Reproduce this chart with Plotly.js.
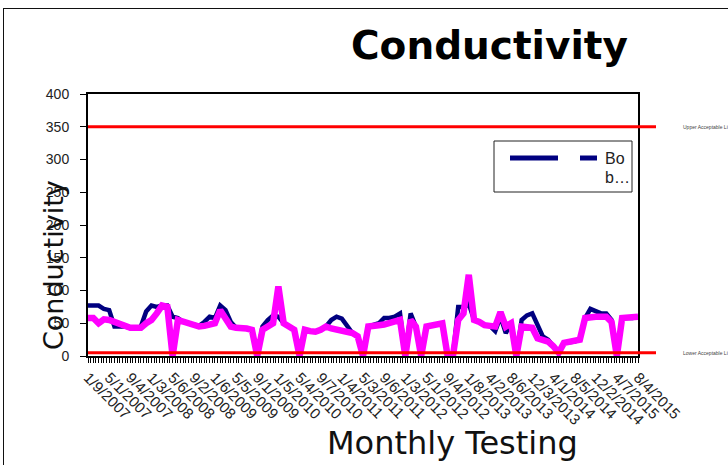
<!DOCTYPE html>
<html><head><meta charset="utf-8">
<script src="https://cdn.plot.ly/plotly-3.0.1.min.js"></script>
<style>
body{margin:0;background:#fff;overflow:hidden}
#frame{position:absolute;left:3px;top:8px;width:800px;height:600px;border:1.5px solid #111;pointer-events:none}
</style>
</head><body>
<div id="chart" style="width:728px;height:465px"></div>
<div id="frame"></div>
<script>
const tickLabels = ["1/9/2007","5/1/2007","9/4/2007","1/3/2008","5/6/2008","9/2/2008","1/6/2009","5/5/2009","9/1/2009","1/5/2010","5/4/2010","9/7/2010","1/4/2011","5/3/2011","9/6/2011","1/3/2012","5/1/2012","9/4/2012","1/8/2013","4/2/2013","8/6/2013","12/3/2013","4/1/2014","8/5/2014","12/2/2014","4/7/2015","8/4/2015"];
const pinkSeries = [58,58,50,56,55,52,47,45,43,43, 43,50,55,65,77,75,0,55,52,50, 48,45,46,47,50,70,55,45,43,43, 42,40,0,40,45,50,106,50,45,40, 0,40,38,37,40,45,42,40,38,36, 35,30,0,45,47,47,48,50,52,55, 0,55,45,0,45,47,48,50,0,0, 55,65,124,55,52,47,46,45,67,45, 50,0,45,44,43,27,25,22,15,5, 20,21,22,25,58,60,60,60,60,52, 0,58,58,58,60];
const navySeries = [77,77,77,72,70,45,45,45,43,43, 45,68,77,75,77,77,60,58,52,50, 48,46,52,60,58,77,70,52,43,43, 42,40,0,45,55,62,60,50,45,40, 0,40,38,37,40,45,55,60,57,47, 35,30,0,45,47,50,58,58,60,65, 0,65,45,0,45,47,48,50,0,0, 75,75,80,55,52,47,46,38,60,35, 50,0,55,62,65,47,30,25,15,5, 20,21,22,25,58,72,68,65,65,55, 0,58,58,58,60];
const upperLimit = 350;
const lowerLimit = 5;
const labelStep = 4;

const xIdx = pinkSeries.map((_, i) => i);
const tickVals = tickLabels.map((_, i) => i * labelStep);

const traces = [
  {x: xIdx, y: navySeries, type: 'scatter', mode: 'lines', line: {color: '#000080', width: 4.5}, hoverinfo: 'skip'},
  {x: xIdx, y: pinkSeries, type: 'scatter', mode: 'lines', line: {color: '#FF00FF', width: 6.5}, hoverinfo: 'skip'}
];

const px = v => (v - 88) / 550;
const py = v => (356 - v) / 262;

const layout = {
  width: 728, height: 465,
  margin: {l: 88, r: 90, t: 94, b: 109},
  paper_bgcolor: '#fff', plot_bgcolor: '#fff',
  showlegend: false,
  font: {family: 'Liberation Sans, Arial, sans-serif', color: '#111'},
  xaxis: {
    range: [0, pinkSeries.length - 1], showgrid: false, zeroline: false,
    showline: true, linecolor: '#000', linewidth: 2, mirror: true,
    tickmode: 'array', tickvals: tickVals, ticktext: tickLabels,
    ticks: 'outside', ticklen: 5, tickcolor: '#000', tickwidth: 1,
    tickangle: 45, tickfont: {size: 15, color: '#222'},
    minor: {dtick: 0.5, tick0: 0, ticks: 'outside', ticklen: 5, tickcolor: '#000', tickwidth: 1, showgrid: false}
  },
  yaxis: {
    range: [0, 400], dtick: 50, showgrid: false, zeroline: false,
    showline: true, linecolor: '#000', linewidth: 2, mirror: true,
    ticks: 'outside', ticklen: 6, tickcolor: '#000',
    tickfont: {size: 14, color: '#222'}, ticklabelstandoff: 8
  },
  shapes: [
    {type: 'line', xref: 'paper', yref: 'y', x0: 0, x1: px(656), y0: upperLimit, y1: upperLimit, line: {color: '#FF0000', width: 3}, layer: 'above'},
    {type: 'line', xref: 'paper', yref: 'y', x0: 0, x1: px(656), y0: lowerLimit, y1: lowerLimit, line: {color: '#FF0000', width: 3}, layer: 'above'},
    {type: 'rect', xref: 'paper', yref: 'paper', x0: px(494), x1: px(632), y0: py(192), y1: py(141), line: {color: '#222', width: 1}, fillcolor: '#fff', layer: 'above'},
    {type: 'line', xref: 'paper', yref: 'paper', x0: px(510), x1: px(558), y0: py(158), y1: py(158), line: {color: '#000080', width: 5}, layer: 'above'},
    {type: 'line', xref: 'paper', yref: 'paper', x0: px(580), x1: px(597), y0: py(158), y1: py(158), line: {color: '#000080', width: 5}, layer: 'above'}
  ],
  annotations: [
    {text: '<b>Conductivity</b>', xref: 'paper', yref: 'paper', x: px(489), y: py(46), showarrow: false, xanchor: 'center', yanchor: 'middle', font: {family: 'DejaVu Sans', size: 39, color: '#000'}},
    {text: 'Monthly Testing', xref: 'paper', yref: 'paper', x: px(452), y: py(443), showarrow: false, xanchor: 'center', yanchor: 'middle', font: {family: 'DejaVu Sans', size: 32, color: '#111'}},
    {text: 'Conductivity', xref: 'paper', yref: 'paper', x: px(53), y: py(265), showarrow: false, textangle: -90, xanchor: 'center', yanchor: 'middle', font: {family: 'DejaVu Sans', size: 27, color: '#111'}},
    {text: 'Bo', xref: 'paper', yref: 'paper', x: px(603), y: py(158), showarrow: false, xanchor: 'left', yanchor: 'middle', font: {size: 16, color: '#222'}},
    {text: 'b…', xref: 'paper', yref: 'paper', x: px(603), y: py(177), showarrow: false, xanchor: 'left', yanchor: 'middle', font: {size: 16, color: '#222'}},
    {text: 'Upper Acceptable Li', xref: 'paper', yref: 'y', x: px(681), y: upperLimit, showarrow: false, xanchor: 'left', yanchor: 'middle', font: {family: 'Liberation Sans Narrow, Liberation Sans', size: 5, color: '#444'}},
    {text: 'Lower Acceptable Li', xref: 'paper', yref: 'y', x: px(681), y: lowerLimit, showarrow: false, xanchor: 'left', yanchor: 'middle', font: {family: 'Liberation Sans Narrow, Liberation Sans', size: 5, color: '#444'}}
  ]
};

Plotly.newPlot('chart', traces, layout, {staticPlot: true, displayModeBar: false});
</script>
</body></html>
